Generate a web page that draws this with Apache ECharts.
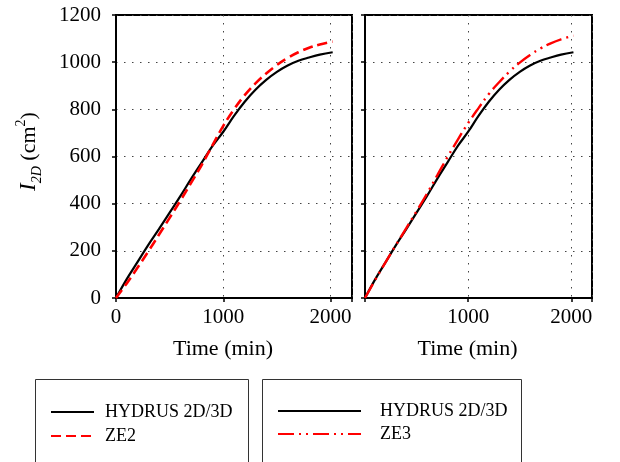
<!DOCTYPE html>
<html>
<head>
<meta charset="utf-8">
<script src="https://cdn.jsdelivr.net/npm/echarts@6/dist/echarts.min.js"></script>
<style>
  html, body { margin: 0; padding: 0; background: #fff; }
  #chart { width: 620px; height: 462px; }
</style>
</head>
<body>
<div id="chart"></div>
<script>
// Cumulative infiltration I_2D (cm^2) against time (min)
const timeMin = [0, 100, 200, 300, 400, 500, 600, 700, 800, 900, 1000, 1100, 1200, 1300, 1400, 1500, 1600, 1700, 1800, 1900, 2020];
const hydrus  = [0, 80, 152, 224, 292, 362, 432, 505, 575, 645, 705, 772, 832, 883, 925, 959, 986, 1006, 1020, 1032, 1042];
const ze2     = [0, 62, 128, 197, 268, 340, 413, 488, 565, 648, 730, 800, 860, 910, 952, 988, 1018, 1042, 1061, 1075, 1087];
const ze3     = [0, 78, 152, 225, 296, 368, 442, 520, 598, 672, 742, 805, 865, 915, 960, 998, 1030, 1058, 1080, 1097, 1112];

const xTickLabelsLeft  = [0, 1000, 2000];
const xTickLabelsRight = [1000, 2000];
const yTickLabels      = [0, 200, 400, 600, 800, 1000, 1200];

const seriesNames = { ref: 'HYDRUS 2D/3D', a: 'ZE2', b: 'ZE3' };
const xTitle = 'Time (min)';

const FONT = '"Liberation Serif", "DejaVu Serif", serif';

function pairs(xs, ys) { return xs.map((x, i) => [x, ys[i]]); }

const chart = echarts.init(document.getElementById('chart'), null, { renderer: 'canvas' });

const gridLine = { show: true, lineStyle: { color: '#444', width: 1, type: [1.5, 6.5] } };
const axisLine = { show: true, lineStyle: { color: '#000', width: 2 } };
const axisTick = { show: true, inside: false, length: 4, lineStyle: { color: '#000', width: 1.5 } };

function xAxis(gridIndex, shown) {
  return {
    type: 'value', gridIndex, min: 0, max: 2200, interval: 1000,
    axisLine, axisTick, splitLine: gridLine,
    axisLabel: {
      color: '#000', fontFamily: FONT, fontSize: 21, margin: 9,
      formatter: v => (shown.indexOf(v) >= 0 ? String(v) : '')
    },
    name: xTitle, nameLocation: 'middle', nameGap: 40,
    nameTextStyle: { color: '#000', fontFamily: FONT, fontSize: 22, padding: [0, 22, 0, 0] }
  };
}

function yAxis(gridIndex, labels) {
  const ax = {
    type: 'value', gridIndex, min: 0, max: 1200, interval: 200,
    axisLine, axisTick, splitLine: gridLine,
    axisLabel: {
      show: labels, color: '#000', fontFamily: FONT, fontSize: 21, margin: 15,
      formatter: v => (yTickLabels.indexOf(v) >= 0 ? String(v) : '')
    }
  };
  if (labels) {
    ax.name = '{i|I}{sub|2D}{n| (cm}{sup|2}{n|)}';
    ax.nameLocation = 'middle';
    ax.nameGap = 72;
    ax.nameTextStyle = {
      color: '#000', fontFamily: FONT, fontSize: 22, padding: [0, 0, 0, 10],
      rich: {
        i:   { fontFamily: FONT, fontSize: 23, fontStyle: 'italic', color: '#000', lineHeight: 30, verticalAlign: 'middle' },
        sub: { fontFamily: FONT, fontSize: 14, fontStyle: 'italic', color: '#000', lineHeight: 30, verticalAlign: 'bottom' },
        n:   { fontFamily: FONT, fontSize: 22, color: '#000', lineHeight: 30, verticalAlign: 'middle' },
        sup: { fontFamily: FONT, fontSize: 14, color: '#000', lineHeight: 30, verticalAlign: 'top' }
      }
    };
  }
  return ax;
}

const refLine = { color: '#000', width: 2.2, type: 'solid' };
const legendText = { color: '#000', fontFamily: FONT, fontSize: 18, lineHeight: 18 };

const option = {
  backgroundColor: '#fff',
  animation: false,
  grid: [
    { left: 116, top: 15, width: 236, height: 283, show: true, borderColor: '#000', borderWidth: 2, backgroundColor: 'transparent' },
    { left: 365, top: 15, width: 227, height: 283, show: true, borderColor: '#000', borderWidth: 2, backgroundColor: 'transparent' }
  ],
  xAxis: [xAxis(0, xTickLabelsLeft), xAxis(1, xTickLabelsRight)],
  yAxis: [yAxis(0, true), yAxis(1, false)],
  legend: [
    {
      orient: 'vertical', left: 50, top: 403, padding: 0,
      itemWidth: 43, itemHeight: 14, itemGap: 6,
      data: [seriesNames.ref, seriesNames.a],
      itemStyle: { opacity: 0 },
      textStyle: Object.assign({ padding: [0, 0, 0, 6] }, legendText),
      selectedMode: false
    },
    {
      orient: 'vertical', left: 277, top: 402, padding: 0,
      itemWidth: 83, itemHeight: 14, itemGap: 5,
      data: [seriesNames.ref, seriesNames.b],
      itemStyle: { opacity: 0 },
      textStyle: Object.assign({ padding: [0, 0, 0, 14] }, legendText),
      selectedMode: false
    }
  ],
  graphic: [
    { type: 'rect', shape: { x: 35.5, y: 379.5, width: 213, height: 100 }, style: { fill: 'none', stroke: '#333', lineWidth: 1 }, z: -1 },
    { type: 'rect', shape: { x: 262.5, y: 379.5, width: 259, height: 100 }, style: { fill: 'none', stroke: '#333', lineWidth: 1 }, z: -1 }
  ],
  series: [
    {
      name: seriesNames.ref, type: 'line', xAxisIndex: 0, yAxisIndex: 0,
      data: pairs(timeMin, hydrus), smooth: 0.4, symbol: 'none',
      lineStyle: refLine, itemStyle: { color: '#000' }
    },
    {
      name: seriesNames.a, type: 'line', xAxisIndex: 0, yAxisIndex: 0,
      data: pairs(timeMin, ze2), smooth: 0.4, symbol: 'none',
      lineStyle: { color: '#f00', width: 2.6, type: [10, 5] }, itemStyle: { color: '#f00' }
    },
    {
      name: seriesNames.ref, type: 'line', xAxisIndex: 1, yAxisIndex: 1,
      data: pairs(timeMin, hydrus), smooth: 0.4, symbol: 'none',
      lineStyle: refLine, itemStyle: { color: '#000' }
    },
    {
      name: seriesNames.b, type: 'line', xAxisIndex: 1, yAxisIndex: 1,
      data: pairs(timeMin, ze3), smooth: 0.4, symbol: 'none',
      lineStyle: { color: '#f00', width: 2.4, type: [16, 5, 2, 5, 2, 5] }, itemStyle: { color: '#f00' }
    }
  ]
};

chart.setOption(option);
</script>
</body>
</html>
